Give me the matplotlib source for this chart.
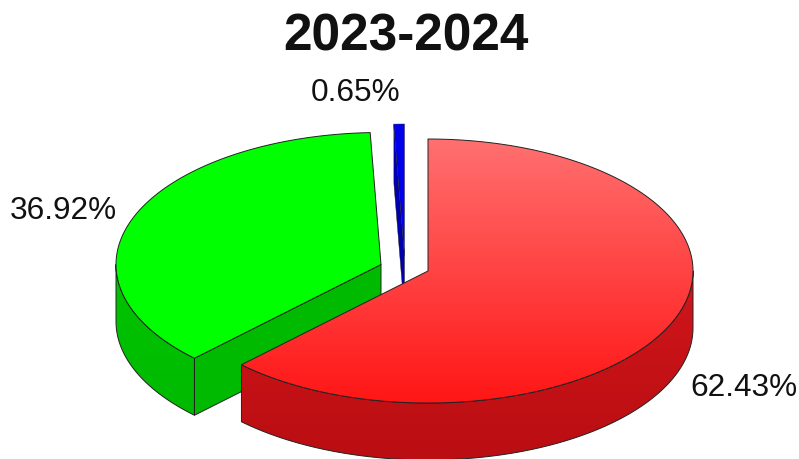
import numpy as np
import matplotlib as mpl
mpl.use('Agg')
import matplotlib.pyplot as plt
from matplotlib.patches import Polygon

title = '2023-2024'
shares = [62.43, 36.92, 0.65]   # percent, clockwise from 12 o'clock
top_light = [(255, 112, 112), (0, 255, 0), (0, 0, 235)]
top_dark = [(255, 22, 22), (0, 255, 0), (0, 0, 235)]
side_light = [(208, 22, 28), (0, 196, 0), (0, 0, 175)]
side_dark = [(186, 14, 18), (0, 186, 0), (0, 0, 175)]
centers = [(428, 271), (381, 264.5), (404.5, 256)]  # exploded slice apexes, px
label_pos = [(744, 388), (63, 211), (356, 93)]
edge_widths = [0.7, 0.7, 0.3]

rx, ry = 265, 132   # ellipse radii of the top face, px
depth = 57          # height of the pie wall, px
edge = '#222222'

def rim( cx,cy,a0,a1 ):
    '''
    Points on the top rim between two clockwise angles from 12 o'clock, deg.
    '''
    a = np.radians( np.linspace(a0, a1, max(int(abs(a1-a0)), 2)+1) )
    return np.column_stack( (cx + rx*np.sin(a), cy - ry*np.cos(a)) )

def fill_gradient( ax,pts,c0,c1,zorder,lw ):
    '''
    Fill a polygon with a vertical gradient running from c0 to c1.
    '''
    ymin, ymax = pts[:,1].min(), pts[:,1].max()
    t = np.linspace(0, 1, 256)[:,None,None]
    img = (1-t)*np.array(c0)[None,None,:] + t*np.array(c1)[None,None,:]
    im = ax.imshow( img/255, extent=(pts[:,0].min(), pts[:,0].max(), ymax, ymin),
                    aspect='auto', zorder=zorder, interpolation='bilinear' )
    poly = Polygon( pts, closed=True, facecolor='none', edgecolor=edge,
                    lw=lw, zorder=zorder+0.1, joinstyle='round' )
    ax.add_patch( poly )
    im.set_clip_path( poly )

def draw_slice( ax,i,a0,a1,zorder ):
    cx, cy = centers[i]
    down = np.array([0, depth])
    apex = np.array([[cx, cy]])
    lw = edge_widths[i]

    # radial wall at the start of the slice faces the viewer past 180 deg
    if a0 >= 180 and a0 <= 360:
        corner = rim( cx,cy,a0,a0 )[:1]
        wall = np.vstack( (apex, corner, corner+down, apex+down) )
        fill_gradient( ax,wall,side_dark[i],side_dark[i],zorder,lw )

    # outer wall, only the part on the front half of the ellipse
    b0, b1 = max(a0, 90), min(a1, 270)
    if b1 > b0:
        arc = rim( cx,cy,b0,b1 )
        wall = np.vstack( (arc, (arc+down)[::-1]) )
        fill_gradient( ax,wall,side_light[i],side_dark[i],zorder,lw )

    top = np.vstack( (apex, rim( cx,cy,a0,a1 )) )
    fill_gradient( ax,top,top_light[i],top_dark[i],zorder+0.2,lw )

def main():
    fig = plt.figure( figsize=(7.99,4.59), dpi=100 )
    ax = fig.add_axes( [0,0,1,1] )
    plt.rcParams['font.family'] = ['Liberation Sans', 'DejaVu Sans']

    ends = np.cumsum(shares) * 3.6
    starts = np.concatenate( ([0], ends[:-1]) )

    # back slices first so the red one overlaps them
    for i in [2, 1, 0]:
        draw_slice( ax,i,starts[i],ends[i],zorder=3-i )

    for i, s in enumerate(shares):
        ax.text( label_pos[i][0], label_pos[i][1], '%.2f%%' % s, fontsize=22.7,
                 ha='center', va='center', color='#111111', zorder=10 )
    ax.text( 405.5, 37, title, fontsize=37, fontweight='bold', ha='center',
             va='center', color='#111111', zorder=10 )

    ax.set_xlim( 0,799 )
    ax.set_ylim( 459,0 )
    ax.axis( 'off' )
    fig.savefig( 'out.png', dpi=100 )

if __name__=='__main__':
    main()
